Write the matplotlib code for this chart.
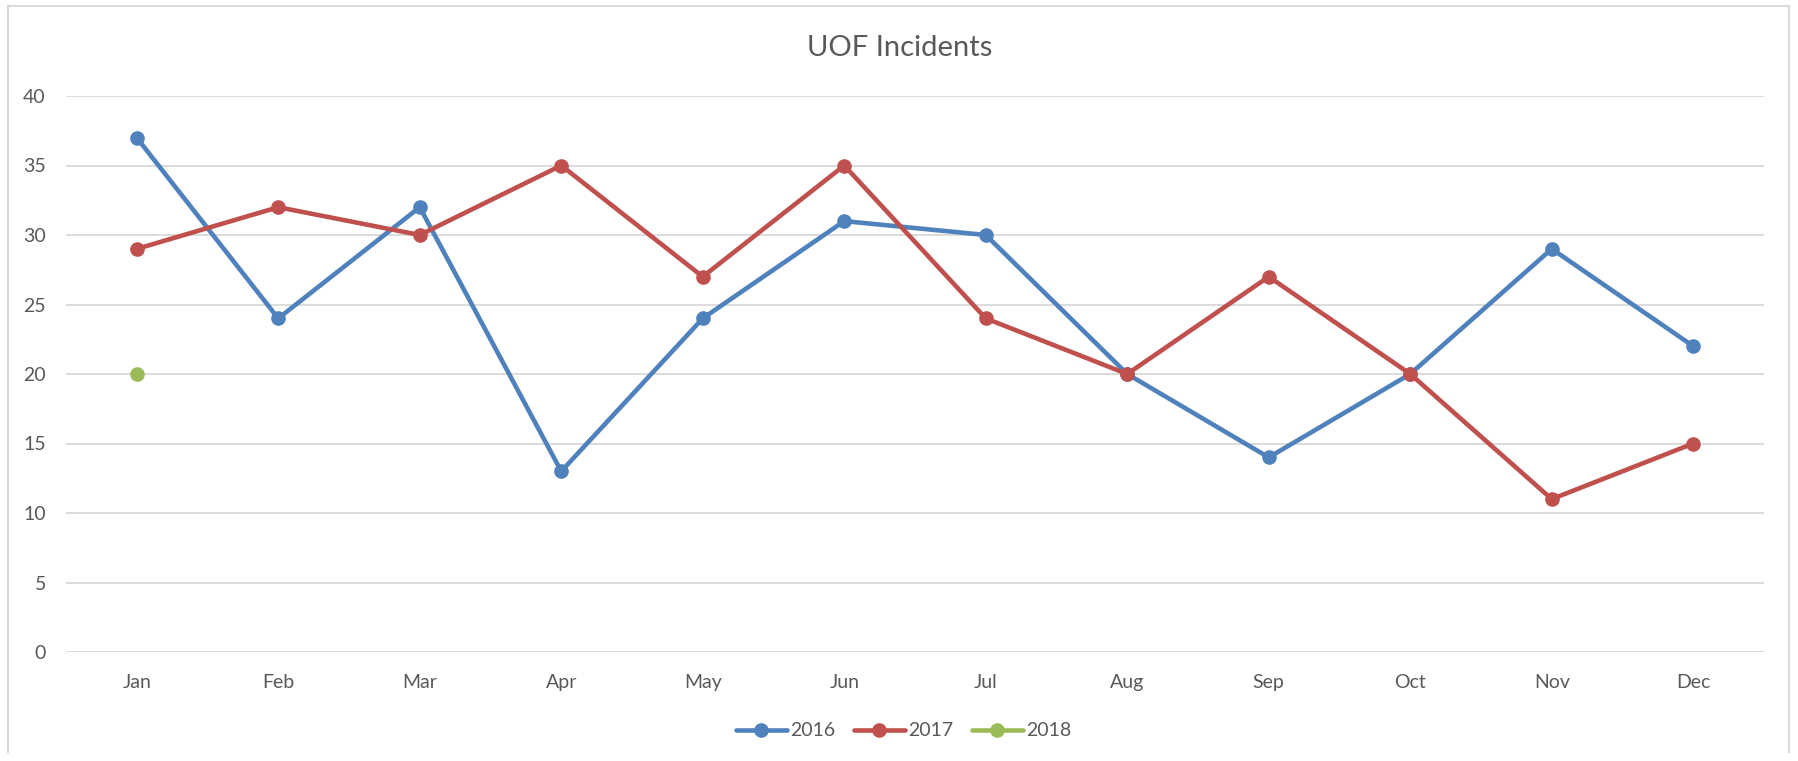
import numpy as np
import matplotlib
matplotlib.use("Agg")
import matplotlib.pyplot as plt
from matplotlib.lines import Line2D

months = ["Jan", "Feb", "Mar", "Apr", "May", "Jun", "Jul", "Aug", "Sep", "Oct", "Nov", "Dec"]
s2016 = [37, 24, 32, 13, 24, 31, 30, 20, 14, 20, 29, 22]
s2017 = [29, 32, 30, 35, 27, 35, 24, 20, 27, 20, 11, 15]
s2018 = [20] + [np.nan] * 11
yticks = [0, 5, 10, 15, 20, 25, 30, 35, 40]

W, H, DPI = 1798, 761, 100
plt.rcParams['font.family'] = ['Lato', 'DejaVu Sans']
text_col = "#595959"
grid_col = "#D9D9D9"

fig = plt.figure(figsize=(W / DPI, H / DPI), dpi=DPI)
ax = fig.add_axes([66 / W, 1 - 652 / H, (1764 - 66) / W, (652 - 96) / H])

x = np.arange(len(months))
series = [("2016", s2016, "#4F81BD"), ("2017", s2017, "#C0504D"), ("2018", s2018, "#9BBB59")]
for name, vals, col in series:
    ax.plot(x, vals, color=col, lw=3.3, marker="o", markersize=9.5, label=name,
            solid_capstyle="round", zorder=3)

ax.set_xlim(-0.5, len(months) - 0.5)
ax.set_ylim(0, 40)
ax.set_yticks(yticks)
ax.set_xticks(x)
ax.set_xticklabels(months)
for s in ax.spines.values():
    s.set_visible(False)
ax.grid(axis="y", color=grid_col, lw=1.3, zorder=0)
ax.tick_params(axis="both", length=0, labelsize=14, labelcolor=text_col)
ax.tick_params(axis="y", pad=14.5)
ax.tick_params(axis="x", pad=15.5)

fig.text(900 / W, 1 - 48.5 / H, "UOF Incidents", ha="center", va="center",
         fontsize=21, color=text_col)

leg = fig.legend(loc="center", bbox_to_anchor=(904 / W, 1 - 731 / H), ncol=3,
                 frameon=False, fontsize=14, handlelength=2.6, handletextpad=0.2,
                 columnspacing=0.95, labelcolor=text_col)

# outer chart frame
for (x0, y0, x1, y1) in [(8, 6, 1789, 6), (8, 6, 8, 752), (1789, 6, 1789, 752)]:
    fig.add_artist(Line2D([x0 / W, x1 / W], [1 - y0 / H, 1 - y1 / H],
                          transform=fig.transFigure, color=grid_col, lw=1.5))

fig.savefig("out.png", dpi=DPI, facecolor="white")
